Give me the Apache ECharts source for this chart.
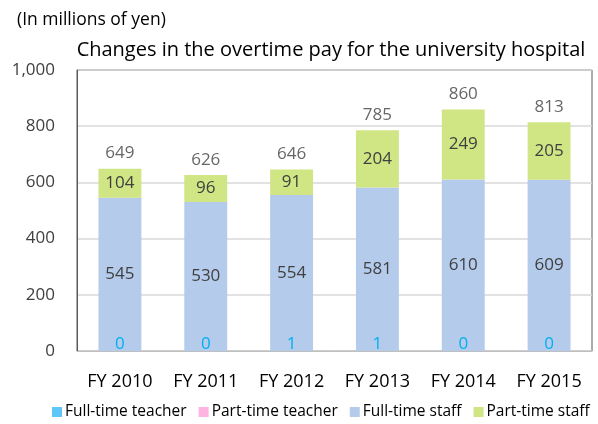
<!DOCTYPE html>
<html>
<head>
<meta charset="utf-8">
<script src="https://cdn.jsdelivr.net/npm/echarts@6/dist/echarts.min.js"></script>
<style>
  html, body { margin: 0; padding: 0; background: #fff; }
  #chart { width: 598px; height: 424px; }
</style>
</head>
<body>
<div id="chart"></div>
<script>
var years = ['FY 2010', 'FY 2011', 'FY 2012', 'FY 2013', 'FY 2014', 'FY 2015'];
var fullTeacher = [0, 0, 1, 1, 0, 0];
var partTeacher = [0, 0, 0, 0, 0, 0];
var fullStaff = [545, 530, 554, 581, 610, 609];
var partStaff = [104, 96, 91, 204, 249, 205];
var totals = [649, 626, 646, 785, 860, 813];
var yTicks = [0, 200, 400, 600, 800, 1000];

var font = 'Open Sans';
var txt = '#404040';

var chart = echarts.init(document.getElementById('chart'));
chart.setOption({
  animation: false,
  textStyle: { fontFamily: font },
  title: [
    {
      text: '(In millions of yen)',
      left: 12, top: 6,
      textStyle: { fontFamily: font, fontSize: 17.5, fontWeight: 'normal', color: '#000' }
    },
    {
      text: 'Changes in the overtime pay for the university hospital',
      left: 326, top: 35, textAlign: 'center',
      textStyle: { fontFamily: font, fontSize: 20, fontWeight: 'normal', color: '#000' }
    }
  ],
  legend: {
    bottom: 4,
    left: 52,
    width: 560,
    padding: 0,
    icon: 'rect',
    itemWidth: 10, itemHeight: 10, itemGap: 12,
    textStyle: { fontFamily: font, fontSize: 15.5, color: '#000', padding: [0, 0, 0, -2] },
    data: ['Full-time teacher', 'Part-time teacher', 'Full-time staff', 'Part-time staff']
  },
  grid: {
    left: 77, right: 6, top: 70, bottom: 73,
    show: true, borderColor: '#595959', borderWidth: 1
  },
  xAxis: {
    type: 'category',
    data: years,
    axisLine: { lineStyle: { color: '#bfbfbf' } },
    axisTick: { show: false },
    axisLabel: { fontFamily: font, fontSize: 18, color: '#000', margin: 22 }
  },
  yAxis: {
    type: 'value',
    min: yTicks[0], max: yTicks[yTicks.length - 1], interval: 200,
    axisLine: { show: true, lineStyle: { color: '#595959' } },
    axisTick: { show: false },
    splitLine: { lineStyle: { color: '#d9d9d9', width: 1.5 } },
    axisLabel: {
      fontFamily: font, fontSize: 17, color: txt, margin: 22,
      formatter: function (v) { return v.toLocaleString('en-US'); }
    }
  },
  series: [
    {
      name: 'Full-time teacher', type: 'bar', stack: 'a', barWidth: '50%',
      data: fullTeacher,
      itemStyle: { color: '#5fc6f8' },
      label: { show: true, position: 'top', distance: -2, color: '#00b0f0', fontSize: 17, fontFamily: font }
    },
    {
      name: 'Part-time teacher', type: 'bar', stack: 'a',
      data: partTeacher,
      itemStyle: { color: '#ffb3e0' }
    },
    {
      name: 'Full-time staff', type: 'bar', stack: 'a',
      data: fullStaff,
      itemStyle: { color: '#b4cbeb' },
      label: { show: true, position: 'inside', color: txt, fontSize: 17, fontFamily: font }
    },
    {
      name: 'Part-time staff', type: 'bar', stack: 'a',
      data: partStaff,
      itemStyle: { color: '#d0e584' },
      label: { show: true, position: 'inside', color: txt, fontSize: 17, fontFamily: font }
    },
    {
      name: 'Total', type: 'scatter',
      data: totals,
      symbolSize: 1,
      itemStyle: { color: 'rgba(0,0,0,0)' },
      label: { show: true, position: 'top', distance: 6, color: txt, fontSize: 17, fontFamily: font },
      z: 5
    }
  ]
});
</script>
</body>
</html>
